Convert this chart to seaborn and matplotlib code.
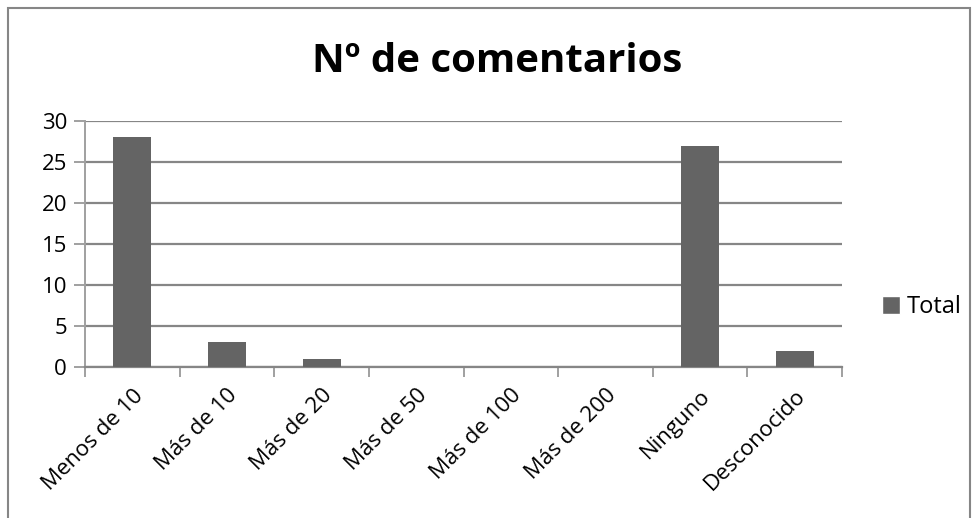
import numpy as np
import pandas as pd
import seaborn as sns
import matplotlib.pyplot as plt
from matplotlib.patches import Rectangle, Patch

categorias = ['Menos de 10', 'Más de 10', 'Más de 20', 'Más de 50',
              'Más de 100', 'Más de 200', 'Ninguno', 'Desconocido']
total = [28, 3, 1, 0, 0, 0, 27, 2]

df = pd.DataFrame({'categoria': categorias, 'Total': total})

sns.set_style('white')
plt.rcParams['font.family'] = ['Open Sans', 'DejaVu Sans']
plt.rcParams['text.color'] = 'black'
plt.rcParams['xtick.color'] = 'black'
plt.rcParams['ytick.color'] = 'black'

fig = plt.figure(figsize=(9.74, 5.18), dpi=100)
ax = fig.add_axes([0.0873, 0.2915, 0.7772, 0.4749])

bar_color = '#646464'
grid_color = '#868686'

sns.barplot(data=df, x='categoria', y='Total', color=bar_color, width=0.4,
            saturation=1, linewidth=0, ax=ax, zorder=3)

ax.set_ylim(0, 30)
ax.set_xlim(-0.5, len(categorias) - 0.5)
ax.set_yticks(range(0, 31, 5))
ax.yaxis.grid(True, color=grid_color, linewidth=1.6, zorder=0)
ax.set_xlabel('')
ax.set_ylabel('')

for s in ['top', 'right']:
    ax.spines[s].set_visible(False)
ax.spines['left'].set_color('#a0a0a0')
ax.spines['left'].set_linewidth(1.4)
ax.spines['bottom'].set_color(grid_color)
ax.spines['bottom'].set_linewidth(1.6)

ax.tick_params(axis='y', which='major', length=8, width=1.4, color='#a0a0a0',
               labelcolor='black', labelsize=16, pad=5, left=True)
ax.set_xticks(np.arange(len(categorias)))
ax.set_xticklabels(categorias, rotation=45, ha='right', rotation_mode='anchor',
                   fontsize=16)
ax.tick_params(axis='x', which='major', length=0, pad=13, labelcolor='black')
ax.set_xticks(np.arange(len(categorias) + 1) - 0.5, minor=True)
ax.tick_params(axis='x', which='minor', length=7, width=1.4, color='#a0a0a0',
               bottom=True)

fig.text(0.51, 0.882, 'Nº de comentarios', ha='center', va='center',
         fontsize=29, fontweight='bold', color='black')

fig.legend(handles=[Patch(facecolor=bar_color, label='Total')],
           loc='center left', bbox_to_anchor=(0.906, 0.407), frameon=False,
           fontsize=17, handlelength=0.75, handleheight=0.75, handletextpad=0.3,
           borderpad=0, borderaxespad=0)

fig.patches.append(Rectangle((8 / 974, -0.1), 962 / 974, 1.1 - 8 / 518,
                             transform=fig.transFigure, fill=False,
                             edgecolor='#868686', linewidth=1.5))

fig.savefig('out.png', dpi=100)
